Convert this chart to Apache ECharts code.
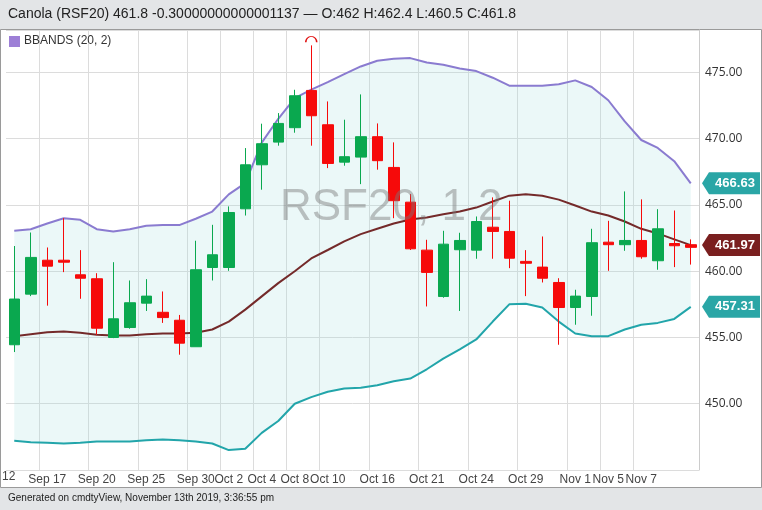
<!DOCTYPE html>
<html>
<head>
<meta charset="utf-8">
<script src="https://cdn.jsdelivr.net/npm/echarts@6/dist/echarts.min.js"></script>
<style>
  html, body { margin: 0; padding: 0; background: #e3e5e7; }
  #chart { width: 762px; height: 510px; }
</style>
</head>
<body>
<div id="chart"></div>
<script>
// trading days shown
var dates = ['Sep 13','Sep 16','Sep 17','Sep 18','Sep 19','Sep 20','Sep 23','Sep 24','Sep 25','Sep 26','Sep 27','Sep 30',
  'Oct 1','Oct 2','Oct 3','Oct 4','Oct 7','Oct 8','Oct 9','Oct 10','Oct 11','Oct 15','Oct 16','Oct 17','Oct 18',
  'Oct 21','Oct 22','Oct 23','Oct 24','Oct 25','Oct 28','Oct 29','Oct 30','Oct 31',
  'Nov 1','Nov 4','Nov 5','Nov 6','Nov 7','Nov 8','Nov 11','Nov 12'];
var shownLabels = ['Sep 17','Sep 20','Sep 25','Sep 30','Oct 2','Oct 4','Oct 8','Oct 10','Oct 16','Oct 21','Oct 24','Oct 29','Nov 1','Nov 5','Nov 7'];

// [open, close, low, high]
var ohlc = [
  [454.45,457.9,453.9,461.9],[458.27,461.04,458.12,462.92],[460.83,460.38,457.4,461.79],[460.83,460.68,459.93,464.0],
  [459.73,459.47,457.92,461.59],[459.43,455.7,455.2,459.85],[455.0,456.41,454.95,460.68],[455.75,457.62,455.66,459.3],
  [457.59,458.12,457.0,459.4],[456.9,456.5,456.1,458.47],[456.3,454.57,453.7,456.7],[454.3,460.11,454.3,462.3],
  [460.28,461.24,459.3,463.5],[460.28,464.43,460.03,464.89],[464.71,468.03,464.2,469.29],[468.03,469.62,466.15,471.13],
  [469.74,471.15,469.47,471.93],[470.83,473.24,470.45,473.69],[473.64,471.73,469.47,477.04],[471.05,468.13,467.78,472.81],
  [468.23,468.64,467.96,471.43],[468.61,470.15,466.57,473.34],[470.15,468.34,467.66,471.15],[467.83,465.32,464.0,469.72],
  [465.21,461.69,461.6,465.82],[461.59,459.91,457.34,462.37],[458.09,462.04,458.0,463.05],[461.62,462.32,457.0,462.9],
  [461.59,463.75,460.94,464.13],[463.32,463.0,460.94,465.57],[463.0,460.98,460.23,465.32],[460.74,460.6,458.12,461.59],
  [460.31,459.47,459.15,462.62],[459.15,457.26,454.45,459.47],[457.26,458.12,455.96,458.6],[458.09,462.15,456.64,463.2],
  [462.19,462.0,460.03,463.8],[462.0,462.32,461.54,466.02],[462.32,461.09,460.94,465.42],[460.79,463.2,460.11,464.68],
  [462.09,461.92,460.31,464.58],[462.0,461.8,460.5,462.4]
];

// bollinger bands (20, 2)
var upperBand = [463.05,463.17,463.6,464.0,463.88,463.17,463.0,463.17,463.43,463.48,463.48,463.96,464.5,465.8,
  466.65,469.7,471.5,473.06,473.7,474.27,474.87,475.45,475.88,476.03,476.08,475.75,475.58,475.3,
  475.1,474.6,474.0,474.0,474.0,474.1,474.4,473.9,472.9,471.3,469.9,469.3,468.3,466.63];
var middleBand = [455.1,455.25,455.4,455.45,455.35,455.2,455.15,455.15,455.25,455.3,455.3,455.35,455.6,456.2,
  457.1,458.1,459.1,460.0,460.96,461.6,462.25,462.8,463.2,463.6,463.9,464.05,464.3,464.5,
  464.8,465.26,465.7,465.8,465.7,465.4,464.96,464.5,464.2,463.75,463.2,462.85,462.4,461.97];
var lowerBand = [447.2,447.1,447.05,447.0,447.05,447.15,447.15,447.15,447.25,447.3,447.25,447.15,447.0,446.5,
  446.6,447.8,448.7,450.0,450.5,450.9,451.15,451.2,451.4,451.7,451.9,452.6,453.4,454.1,
  454.85,456.2,457.5,457.55,457.26,456.2,455.3,455.1,455.1,455.6,455.96,456.1,456.4,457.31];
var lastTags = [[466.63, '#2aa6a6'], [461.97, '#7a1f1f'], [457.31, '#2aa6a6']];

var bandWidth = upperBand.map(function (v, i) { return +(v - lowerBand[i]).toFixed(2); });

var chart = echarts.init(document.getElementById('chart'));

var option = {
  animation: false,
  textStyle: { fontFamily: 'Open Sans, Liberation Sans, sans-serif' },
  graphic: [
    { type: 'rect', left: 0, top: 29, shape: { width: 761, height: 458 }, style: { fill: '#fff', stroke: '#9a9a9a', lineWidth: 1 }, z: -10 },
    { type: 'text', left: 8, top: 7, style: { text: 'Canola (RSF20) 461.8 -0.30000000000001137 — O:462 H:462.4 L:460.5 C:461.8', font: '14px Liberation Sans, Arial', fill: '#222' } },
    { type: 'rect', left: 9, top: 36, shape: { width: 11, height: 11 }, style: { fill: '#9d7fd6' }, z: 10 },
    { type: 'text', left: 24, top: 35, style: { text: 'BBANDS (20, 2)', font: '12px Liberation Sans, Arial', fill: '#333' }, z: 10 },
    { type: 'text', left: 280, top: 186, style: { text: 'RSF20, 1 2', font: '44px Liberation Sans, Arial', fill: 'rgba(120,120,120,0.45)' }, z: 5 },
    { type: 'text', left: 2, top: 471, style: { text: '12', font: '12px Liberation Sans, Arial', fill: '#444' } },
    { type: 'text', left: 8, top: 493, style: { text: 'Generated on cmdtyView, November 13th 2019, 3:36:55 pm', font: '10px Liberation Sans, Arial', fill: '#222' } }
  ].concat(lastTags.map(function (t) {
    return {
      type: 'group', z: 20,
      position: [0, 0],
      children: []
    };
  })),
  grid: { left: 6, right: 63, top: 30, bottom: 40 },
  xAxis: {
    type: 'category', data: dates, boundaryGap: true,
    axisLine: { show: false }, axisTick: { show: false },
    axisLabel: {
      interval: function (i, v) { return shownLabels.indexOf(v) >= 0; },
      hideOverlap: false,
      color: '#444', fontSize: 12, fontFamily: 'Liberation Sans, Arial', margin: 4
    },
    splitLine: {
      show: true,
      interval: function (i, v) { return shownLabels.indexOf(v) >= 0; },
      lineStyle: { color: '#dcdcdc' }
    }
  },
  yAxis: {
    type: 'value', position: 'right', scale: true,
    min: 445, max: 478.2, interval: 5,
    axisLine: { show: true, lineStyle: { color: '#ccc' } }, axisTick: { show: false },
    axisLabel: {
      showMinLabel: false, showMaxLabel: false, color: '#333', fontSize: 12, margin: 6,
      formatter: function (v) { return v === 445 ? '' : v.toFixed(2); }
    },
    splitLine: { lineStyle: { color: '#dcdcdc' } }
  },
  series: [
    { type: 'line', data: lowerBand, stack: 'bb', symbol: 'none', lineStyle: { opacity: 0 }, silent: true },
    { type: 'line', data: bandWidth, stack: 'bb', symbol: 'none', lineStyle: { opacity: 0 }, silent: true,
      areaStyle: { color: 'rgba(160,220,222,0.3)' } },
    { type: 'line', data: upperBand, symbol: 'none', lineStyle: { color: '#8a7bd0', width: 2 } },
    { type: 'line', data: middleBand, symbol: 'none', lineStyle: { color: '#742a2a', width: 2 } },
    { type: 'line', data: lowerBand, symbol: 'none', lineStyle: { color: '#22a5aa', width: 2 } },
    {
      type: 'candlestick', data: ohlc, barWidth: 11, z: 4,
      itemStyle: { color: '#0aa84f', color0: '#f60a0a', borderColor: '#0aa84f', borderColor0: '#f60a0a', borderWidth: 1 },
      markPoint: {
        silent: true,
        symbol: 'path://M0,10 A10,10 0 0 1 20,10', symbolSize: [11, 6], symbolOffset: [0, -6],
        itemStyle: { color: 'transparent', borderColor: '#e01010', borderWidth: 1.2 },
        label: { show: false },
        data: [{ type: 'max', valueDim: 'highest' }]
      }
    }
  ]
};
chart.setOption(option);

// price tags on the right axis, placed through the value scale
var tagGraphics = lastTags.map(function (t) {
  var p = chart.convertToPixel({ gridIndex: 0 }, [dates.length - 1, t[0]]);
  return {
    type: 'group', x: 702, y: p[1], z: 20, silent: true,
    children: [
      { type: 'polygon', shape: { points: [[0, 0], [7, -11], [58, -11], [58, 11], [7, 11]] }, style: { fill: t[1] } },
      { type: 'text', x: 33, y: 0, style: { text: t[0].toFixed(2), fill: '#fff', font: 'bold 13px Liberation Sans, Arial', align: 'center', verticalAlign: 'middle' } }
    ]
  };
});
chart.setOption({ graphic: option.graphic.slice(0, 7).concat(tagGraphics) }, { replaceMerge: ['graphic'] });
</script>
</body>
</html>
